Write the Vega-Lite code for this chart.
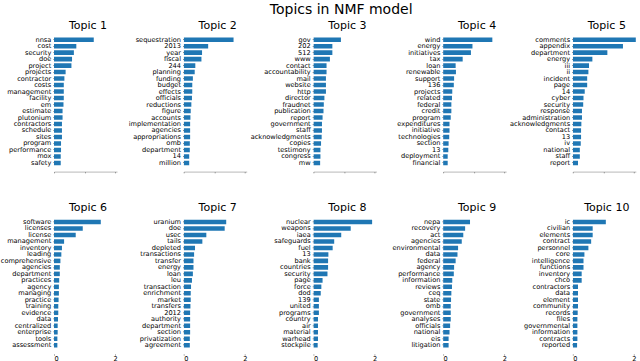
{
  "$schema": "https://vega.github.io/schema/vega-lite/v6.json",
  "padding": {"left": 0, "top": 3, "right": 0, "bottom": 0},
  "background": "white",
  "title": {"text": "Topics in NMF model", "fontSize": 14, "font": "DejaVu Sans", "fontWeight": "normal", "anchor": "middle", "dx": 23, "offset": 3, "color": "black"},
  "datasets": {
    "d": [
      {"t": 1, "w": "nnsa", "v": 1.30}, {"t": 1, "w": "cost", "v": 0.73}, {"t": 1, "w": "security", "v": 0.65}, {"t": 1, "w": "doe", "v": 0.59}, {"t": 1, "w": "project", "v": 0.57},
      {"t": 1, "w": "projects", "v": 0.38}, {"t": 1, "w": "contractor", "v": 0.34}, {"t": 1, "w": "costs", "v": 0.32}, {"t": 1, "w": "management", "v": 0.32}, {"t": 1, "w": "facility", "v": 0.32},
      {"t": 1, "w": "em", "v": 0.31}, {"t": 1, "w": "estimate", "v": 0.28}, {"t": 1, "w": "plutonium", "v": 0.28}, {"t": 1, "w": "contractors", "v": 0.26}, {"t": 1, "w": "schedule", "v": 0.26},
      {"t": 1, "w": "sites", "v": 0.26}, {"t": 1, "w": "program", "v": 0.23}, {"t": 1, "w": "performance", "v": 0.23}, {"t": 1, "w": "mox", "v": 0.22}, {"t": 1, "w": "safety", "v": 0.22},

      {"t": 2, "w": "sequestration", "v": 1.63}, {"t": 2, "w": "2013", "v": 0.80}, {"t": 2, "w": "year", "v": 0.60}, {"t": 2, "w": "fiscal", "v": 0.58}, {"t": 2, "w": "244", "v": 0.38},
      {"t": 2, "w": "planning", "v": 0.36}, {"t": 2, "w": "funding", "v": 0.30}, {"t": 2, "w": "budget", "v": 0.28}, {"t": 2, "w": "effects", "v": 0.28}, {"t": 2, "w": "officials", "v": 0.27},
      {"t": 2, "w": "reductions", "v": 0.25}, {"t": 2, "w": "figure", "v": 0.23}, {"t": 2, "w": "accounts", "v": 0.22}, {"t": 2, "w": "implementation", "v": 0.21}, {"t": 2, "w": "agencies", "v": 0.21},
      {"t": 2, "w": "appropriations", "v": 0.21}, {"t": 2, "w": "omb", "v": 0.20}, {"t": 2, "w": "department", "v": 0.20}, {"t": 2, "w": "14", "v": 0.18}, {"t": 2, "w": "million", "v": 0.18},

      {"t": 3, "w": "gov", "v": 0.90}, {"t": 3, "w": "202", "v": 0.62}, {"t": 3, "w": "512", "v": 0.62}, {"t": 3, "w": "www", "v": 0.54}, {"t": 3, "w": "contact", "v": 0.43},
      {"t": 3, "w": "accountability", "v": 0.43}, {"t": 3, "w": "mail", "v": 0.41}, {"t": 3, "w": "website", "v": 0.41}, {"t": 3, "w": "http", "v": 0.41}, {"t": 3, "w": "director", "v": 0.36},
      {"t": 3, "w": "fraudnet", "v": 0.34}, {"t": 3, "w": "publication", "v": 0.33}, {"t": 3, "w": "report", "v": 0.30}, {"t": 3, "w": "government", "v": 0.28}, {"t": 3, "w": "staff", "v": 0.28},
      {"t": 3, "w": "acknowledgments", "v": 0.27}, {"t": 3, "w": "copies", "v": 0.25}, {"t": 3, "w": "testimony", "v": 0.23}, {"t": 3, "w": "congress", "v": 0.23}, {"t": 3, "w": "mw", "v": 0.22},

      {"t": 4, "w": "wind", "v": 1.61}, {"t": 4, "w": "energy", "v": 0.96}, {"t": 4, "w": "initiatives", "v": 0.91}, {"t": 4, "w": "tax", "v": 0.64}, {"t": 4, "w": "loan", "v": 0.41},
      {"t": 4, "w": "renewable", "v": 0.42}, {"t": 4, "w": "support", "v": 0.36}, {"t": 4, "w": "136", "v": 0.35}, {"t": 4, "w": "projects", "v": 0.30}, {"t": 4, "w": "related", "v": 0.29},
      {"t": 4, "w": "federal", "v": 0.27}, {"t": 4, "w": "credit", "v": 0.27}, {"t": 4, "w": "program", "v": 0.25}, {"t": 4, "w": "expenditures", "v": 0.21}, {"t": 4, "w": "initiative", "v": 0.21},
      {"t": 4, "w": "technologies", "v": 0.20}, {"t": 4, "w": "section", "v": 0.18}, {"t": 4, "w": "13", "v": 0.17}, {"t": 4, "w": "deployment", "v": 0.15}, {"t": 4, "w": "financial", "v": 0.15},

      {"t": 5, "w": "comments", "v": 2.12}, {"t": 5, "w": "appendix", "v": 1.64}, {"t": 5, "w": "department", "v": 1.13}, {"t": 5, "w": "energy", "v": 0.64}, {"t": 5, "w": "iii", "v": 0.53},
      {"t": 5, "w": "ii", "v": 0.51}, {"t": 5, "w": "incident", "v": 0.47}, {"t": 5, "w": "page", "v": 0.47}, {"t": 5, "w": "14", "v": 0.39}, {"t": 5, "w": "cyber", "v": 0.35},
      {"t": 5, "w": "security", "v": 0.34}, {"t": 5, "w": "response", "v": 0.30}, {"t": 5, "w": "administration", "v": 0.30}, {"t": 5, "w": "acknowledgments", "v": 0.28}, {"t": 5, "w": "contact", "v": 0.27},
      {"t": 5, "w": "13", "v": 0.27}, {"t": 5, "w": "iv", "v": 0.26}, {"t": 5, "w": "national", "v": 0.23}, {"t": 5, "w": "staff", "v": 0.23}, {"t": 5, "w": "report", "v": 0.17},

      {"t": 6, "w": "software", "v": 1.53}, {"t": 6, "w": "licenses", "v": 0.94}, {"t": 6, "w": "license", "v": 0.71}, {"t": 6, "w": "management", "v": 0.33}, {"t": 6, "w": "inventory", "v": 0.26},
      {"t": 6, "w": "leading", "v": 0.24}, {"t": 6, "w": "comprehensive", "v": 0.21}, {"t": 6, "w": "agencies", "v": 0.19}, {"t": 6, "w": "department", "v": 0.19}, {"t": 6, "w": "practices", "v": 0.17},
      {"t": 6, "w": "agency", "v": 0.16}, {"t": 6, "w": "managing", "v": 0.16}, {"t": 6, "w": "practice", "v": 0.15}, {"t": 6, "w": "training", "v": 0.14}, {"t": 6, "w": "evidence", "v": 0.14},
      {"t": 6, "w": "data", "v": 0.13}, {"t": 6, "w": "centralized", "v": 0.12}, {"t": 6, "w": "enterprise", "v": 0.12}, {"t": 6, "w": "tools", "v": 0.11}, {"t": 6, "w": "assessment", "v": 0.11},

      {"t": 7, "w": "uranium", "v": 1.39}, {"t": 7, "w": "doe", "v": 1.34}, {"t": 7, "w": "usec", "v": 0.74}, {"t": 7, "w": "tails", "v": 0.61}, {"t": 7, "w": "depleted", "v": 0.37},
      {"t": 7, "w": "transactions", "v": 0.34}, {"t": 7, "w": "transfer", "v": 0.32}, {"t": 7, "w": "energy", "v": 0.32}, {"t": 7, "w": "loan", "v": 0.30}, {"t": 7, "w": "leu", "v": 0.27},
      {"t": 7, "w": "transaction", "v": 0.24}, {"t": 7, "w": "enrichment", "v": 0.23}, {"t": 7, "w": "market", "v": 0.23}, {"t": 7, "w": "transfers", "v": 0.22}, {"t": 7, "w": "2012", "v": 0.21},
      {"t": 7, "w": "authority", "v": 0.21}, {"t": 7, "w": "department", "v": 0.21}, {"t": 7, "w": "section", "v": 0.21}, {"t": 7, "w": "privatization", "v": 0.20}, {"t": 7, "w": "agreement", "v": 0.20},

      {"t": 8, "w": "nuclear", "v": 1.92}, {"t": 8, "w": "weapons", "v": 1.22}, {"t": 8, "w": "iaea", "v": 0.91}, {"t": 8, "w": "safeguards", "v": 0.68}, {"t": 8, "w": "fuel", "v": 0.63},
      {"t": 8, "w": "13", "v": 0.49}, {"t": 8, "w": "bank", "v": 0.48}, {"t": 8, "w": "countries", "v": 0.48}, {"t": 8, "w": "security", "v": 0.46}, {"t": 8, "w": "page", "v": 0.30},
      {"t": 8, "w": "force", "v": 0.26}, {"t": 8, "w": "dod", "v": 0.24}, {"t": 8, "w": "139", "v": 0.18}, {"t": 8, "w": "united", "v": 0.18}, {"t": 8, "w": "programs", "v": 0.18},
      {"t": 8, "w": "country", "v": 0.15}, {"t": 8, "w": "air", "v": 0.15}, {"t": 8, "w": "material", "v": 0.15}, {"t": 8, "w": "warhead", "v": 0.15}, {"t": 8, "w": "stockpile", "v": 0.14},

      {"t": 9, "w": "nepa", "v": 0.88}, {"t": 9, "w": "recovery", "v": 0.72}, {"t": 9, "w": "act", "v": 0.66}, {"t": 9, "w": "agencies", "v": 0.61}, {"t": 9, "w": "environmental", "v": 0.49},
      {"t": 9, "w": "data", "v": 0.47}, {"t": 9, "w": "federal", "v": 0.41}, {"t": 9, "w": "agency", "v": 0.36}, {"t": 9, "w": "performance", "v": 0.35}, {"t": 9, "w": "information", "v": 0.30},
      {"t": 9, "w": "reviews", "v": 0.29}, {"t": 9, "w": "ceq", "v": 0.27}, {"t": 9, "w": "state", "v": 0.26}, {"t": 9, "w": "omb", "v": 0.25}, {"t": 9, "w": "government", "v": 0.25},
      {"t": 9, "w": "analyses", "v": 0.25}, {"t": 9, "w": "officials", "v": 0.23}, {"t": 9, "w": "national", "v": 0.21}, {"t": 9, "w": "eis", "v": 0.18}, {"t": 9, "w": "litigation", "v": 0.18},

      {"t": 10, "w": "ic", "v": 1.08}, {"t": 10, "w": "civilian", "v": 0.65}, {"t": 10, "w": "elements", "v": 0.65}, {"t": 10, "w": "contract", "v": 0.60}, {"t": 10, "w": "personnel", "v": 0.51},
      {"t": 10, "w": "core", "v": 0.38}, {"t": 10, "w": "intelligence", "v": 0.35}, {"t": 10, "w": "functions", "v": 0.35}, {"t": 10, "w": "inventory", "v": 0.29}, {"t": 10, "w": "chco", "v": 0.29},
      {"t": 10, "w": "contractors", "v": 0.17}, {"t": 10, "w": "data", "v": 0.17}, {"t": 10, "w": "element", "v": 0.17}, {"t": 10, "w": "community", "v": 0.17}, {"t": 10, "w": "records", "v": 0.16},
      {"t": 10, "w": "files", "v": 0.15}, {"t": 10, "w": "governmental", "v": 0.15}, {"t": 10, "w": "information", "v": 0.15}, {"t": 10, "w": "contracts", "v": 0.15}, {"t": 10, "w": "reported", "v": 0.14}
    ]
  },
  "data": {"name": "d"},
  "columns": 5,
  "bounds": "flush",
  "spacing": {"row": 41.3, "column": 66.7},
  "resolve": {"scale": {"x": "independent", "y": "independent"}},
  "concat": [
    {"title": {"text": "Topic 1", "fontSize": 11, "dx": 2.5, "offset": 0}, "transform": [{"filter": "datum.t == 1"}], "width": 63, "height": 140.6, "mark": {"type": "bar", "clip": true, "color": "#1f77b4"},
     "encoding": {"y": {"field": "w", "type": "nominal", "sort": null, "scale": {"paddingInner": 0.3, "paddingOuter": 0.985}, "axis": {"title": null}},
                  "x": {"field": "v", "type": "quantitative", "scale": {"domain": [0, 2.06], "nice": false}, "axis": {"title": null, "labels": false, "values": [0, 1, 2]}}}},
    {"title": {"text": "Topic 2", "fontSize": 11, "dx": 2.5, "offset": 0}, "transform": [{"filter": "datum.t == 2"}], "width": 63, "height": 140.6, "mark": {"type": "bar", "clip": true, "color": "#1f77b4"},
     "encoding": {"y": {"field": "w", "type": "nominal", "sort": null, "scale": {"paddingInner": 0.3, "paddingOuter": 0.985}, "axis": {"title": null}},
                  "x": {"field": "v", "type": "quantitative", "scale": {"domain": [0, 2.06], "nice": false}, "axis": {"title": null, "labels": false, "values": [0, 1, 2]}}}},
    {"title": {"text": "Topic 3", "fontSize": 11, "dx": 2.5, "offset": 0}, "transform": [{"filter": "datum.t == 3"}], "width": 63, "height": 140.6, "mark": {"type": "bar", "clip": true, "color": "#1f77b4"},
     "encoding": {"y": {"field": "w", "type": "nominal", "sort": null, "scale": {"paddingInner": 0.3, "paddingOuter": 0.985}, "axis": {"title": null}},
                  "x": {"field": "v", "type": "quantitative", "scale": {"domain": [0, 2.06], "nice": false}, "axis": {"title": null, "labels": false, "values": [0, 1, 2]}}}},
    {"title": {"text": "Topic 4", "fontSize": 11, "dx": 2.5, "offset": 0}, "transform": [{"filter": "datum.t == 4"}], "width": 63, "height": 140.6, "mark": {"type": "bar", "clip": true, "color": "#1f77b4"},
     "encoding": {"y": {"field": "w", "type": "nominal", "sort": null, "scale": {"paddingInner": 0.3, "paddingOuter": 0.985}, "axis": {"title": null}},
                  "x": {"field": "v", "type": "quantitative", "scale": {"domain": [0, 2.06], "nice": false}, "axis": {"title": null, "labels": false, "values": [0, 1, 2]}}}},
    {"title": {"text": "Topic 5", "fontSize": 11, "dx": 2.5, "offset": 0}, "transform": [{"filter": "datum.t == 5"}], "width": 63, "height": 140.6, "mark": {"type": "bar", "clip": true, "color": "#1f77b4"},
     "encoding": {"y": {"field": "w", "type": "nominal", "sort": null, "scale": {"paddingInner": 0.3, "paddingOuter": 0.985}, "axis": {"title": null}},
                  "x": {"field": "v", "type": "quantitative", "scale": {"domain": [0, 2.06], "nice": false}, "axis": {"title": null, "labels": false, "values": [0, 1, 2]}}}},
    {"title": {"text": "Topic 6", "fontSize": 11, "dx": 2.5, "offset": 0}, "transform": [{"filter": "datum.t == 6"}], "width": 63, "height": 140.6, "mark": {"type": "bar", "clip": true, "color": "#1f77b4"},
     "encoding": {"y": {"field": "w", "type": "nominal", "sort": null, "scale": {"paddingInner": 0.3, "paddingOuter": 0.985}, "axis": {"title": null}},
                  "x": {"field": "v", "type": "quantitative", "scale": {"domain": [0, 2.06], "nice": false}, "axis": {"title": null, "values": [0, 1, 2], "format": "d", "domain": false}}}},
    {"title": {"text": "Topic 7", "fontSize": 11, "dx": 2.5, "offset": 0}, "transform": [{"filter": "datum.t == 7"}], "width": 63, "height": 140.6, "mark": {"type": "bar", "clip": true, "color": "#1f77b4"},
     "encoding": {"y": {"field": "w", "type": "nominal", "sort": null, "scale": {"paddingInner": 0.3, "paddingOuter": 0.985}, "axis": {"title": null}},
                  "x": {"field": "v", "type": "quantitative", "scale": {"domain": [0, 2.06], "nice": false}, "axis": {"title": null, "values": [0, 1, 2], "format": "d", "domain": false}}}},
    {"title": {"text": "Topic 8", "fontSize": 11, "dx": 2.5, "offset": 0}, "transform": [{"filter": "datum.t == 8"}], "width": 63, "height": 140.6, "mark": {"type": "bar", "clip": true, "color": "#1f77b4"},
     "encoding": {"y": {"field": "w", "type": "nominal", "sort": null, "scale": {"paddingInner": 0.3, "paddingOuter": 0.985}, "axis": {"title": null}},
                  "x": {"field": "v", "type": "quantitative", "scale": {"domain": [0, 2.06], "nice": false}, "axis": {"title": null, "values": [0, 1, 2], "format": "d", "domain": false}}}},
    {"title": {"text": "Topic 9", "fontSize": 11, "dx": 2.5, "offset": 0}, "transform": [{"filter": "datum.t == 9"}], "width": 63, "height": 140.6, "mark": {"type": "bar", "clip": true, "color": "#1f77b4"},
     "encoding": {"y": {"field": "w", "type": "nominal", "sort": null, "scale": {"paddingInner": 0.3, "paddingOuter": 0.985}, "axis": {"title": null}},
                  "x": {"field": "v", "type": "quantitative", "scale": {"domain": [0, 2.06], "nice": false}, "axis": {"title": null, "values": [0, 1, 2], "format": "d", "domain": false}}}},
    {"title": {"text": "Topic 10", "fontSize": 11, "dx": 2.5, "offset": 0}, "transform": [{"filter": "datum.t == 10"}], "width": 63, "height": 140.6, "mark": {"type": "bar", "clip": true, "color": "#1f77b4"},
     "encoding": {"y": {"field": "w", "type": "nominal", "sort": null, "scale": {"paddingInner": 0.3, "paddingOuter": 0.985}, "axis": {"title": null}},
                  "x": {"field": "v", "type": "quantitative", "scale": {"domain": [0, 2.06], "nice": false}, "axis": {"title": null, "values": [0, 1, 2], "format": "d", "domain": false}}}}
  ],
  "config": {
    "font": "DejaVu Sans",
    "view": {"stroke": null},
    "title": {"font": "DejaVu Sans", "fontSize": 14, "fontWeight": "normal", "color": "black"},
    "axis": {"grid": false, "labelFont": "DejaVu Sans", "labelFontSize": 6.6, "labelColor": "black", "tickSize": 1.2, "tickColor": "#444", "tickWidth": 0.6, "domainColor": "#888", "domainWidth": 0.6},
    "axisY": {"domain": false, "labelPadding": 2, "labelLimit": 200},
    "axisX": {"labelPadding": 0, "labelAngle": 0}
  }
}
